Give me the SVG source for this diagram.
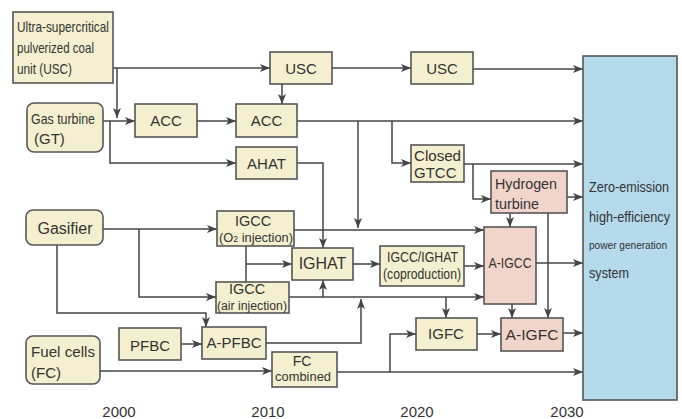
<svg xmlns="http://www.w3.org/2000/svg" width="682" height="419" viewBox="0 0 682 419">
  <defs>
    <marker id="arr" viewBox="0 0 10 8" refX="10" refY="4" markerWidth="10" markerHeight="8" markerUnits="userSpaceOnUse" orient="auto">
      <path d="M0,0 L10,4 L0,8 L2.5,4 Z" fill="#444"/>
    </marker>
    <style>
      svg { font-size: 15px; }
      .bx { fill: #f4efcf; stroke: #555; stroke-width: 1.6; }
      .pk { fill: #f2d5ca; stroke: #555; stroke-width: 1.6; }
      .bl { fill: #b5daec; stroke: #555; stroke-width: 1.6; }
      .ln { fill: none; stroke: #444; stroke-width: 1.5; }
      .ar { fill: none; stroke: #444; stroke-width: 1.5; marker-end: url(#arr); }
      text { font-family: "Liberation Sans", Arial, sans-serif; fill: #333; }
      .c { text-anchor: middle; }
    </style>
  </defs>

  <!-- connectors -->
  <g id="connectors">
    <path class="ar" d="M113,68 H270"/>
    <path class="ar" d="M117,68 V118"/>
    <path class="ar" d="M103,121 H135"/>
    <path class="ar" d="M110,121 V163 H236"/>
    <path class="ar" d="M197,121 H236"/>
    <path class="ar" d="M332,68 H411"/>
    <path class="ar" d="M473,69 H583"/>
    <path class="ar" d="M282,84 V104"/>
    <path class="ar" d="M297,121 H583"/>
    <path class="ar" d="M358,121 V228"/>
    <path class="ar" d="M392,121 V163 H411"/>
    <path class="ar" d="M297,163 H323 V248"/>
    <path class="ar" d="M464,164 H583"/>
    <path class="ar" d="M473,164 V199 H491"/>
    <path class="ar" d="M567,197 H583"/>
    <path class="ar" d="M510,213 V227"/>
    <path class="ar" d="M548,213 V318"/>
    <path class="ar" d="M103,229 H217"/>
    <path class="ar" d="M139,229 V297 H216"/>
    <path class="ar" d="M57,245 V313 H206 V327"/>
    <path class="ar" d="M294,230 H484"/>
    <path class="ln" d="M246,246 V282"/>
    <path class="ar" d="M246,264 H292"/>
    <path class="ar" d="M353,264 H380"/>
    <path class="ar" d="M464,266 H484"/>
    <path class="ar" d="M536,263 H583"/>
    <path class="ar" d="M289,297 H484"/>
    <path class="ar" d="M323,297 V280"/>
    <path class="ar" d="M266,343 H361 V299"/>
    <path class="ar" d="M446,297 V318"/>
    <path class="ar" d="M512,304 V318"/>
    <path class="ar" d="M181,344 H202"/>
    <path class="ar" d="M477,334 H501"/>
    <path class="ar" d="M563,333 H583"/>
    <path class="ar" d="M100,371 H272"/>
    <path class="ar" d="M337,372 H583"/>
    <path class="ar" d="M390,372 V334 H416"/>
  </g>

  <!-- source technologies -->
  <g id="usc-src">
    <rect class="bx" x="13" y="12" width="100" height="71"/>
    <text x="17" y="32" textLength="92" lengthAdjust="spacingAndGlyphs">Ultra-supercritical</text>
    <text x="17" y="53" textLength="77" lengthAdjust="spacingAndGlyphs">pulverized coal</text>
    <text x="17" y="74" textLength="55" lengthAdjust="spacingAndGlyphs">unit (USC)</text>
  </g>
  <g id="gt-src">
    <rect class="bx" x="27" y="103" width="76" height="49" rx="7"/>
    <text x="31" y="124" textLength="64" lengthAdjust="spacingAndGlyphs">Gas turbine</text>
    <text x="34" y="144">(GT)</text>
  </g>
  <g id="gasifier">
    <rect class="bx" x="26" y="210" width="77" height="35" rx="7"/>
    <text class="c" x="65" y="234" font-size="16">Gasifier</text>
  </g>
  <g id="fc-src">
    <rect class="bx" x="26" y="336" width="74" height="48" rx="7"/>
    <text x="31" y="357" textLength="64" lengthAdjust="spacingAndGlyphs">Fuel cells</text>
    <text x="31" y="378">(FC)</text>
  </g>

  <!-- intermediate technologies -->
  <g id="acc1">
    <rect class="bx" x="135" y="104" width="62" height="33"/>
    <text class="c" x="166" y="126">ACC</text>
  </g>
  <g id="usc2">
    <rect class="bx" x="270" y="52" width="62" height="32"/>
    <text class="c" x="301" y="74">USC</text>
  </g>
  <g id="usc3">
    <rect class="bx" x="411" y="52" width="62" height="32"/>
    <text class="c" x="442" y="74">USC</text>
  </g>
  <g id="acc2">
    <rect class="bx" x="236" y="104" width="61" height="33"/>
    <text class="c" x="266.5" y="126">ACC</text>
  </g>
  <g id="ahat">
    <rect class="bx" x="236" y="147" width="61" height="32"/>
    <text class="c" x="266.5" y="169">AHAT</text>
  </g>
  <g id="closed-gtcc">
    <rect class="bx" x="411" y="145" width="53" height="37"/>
    <text x="414" y="161" textLength="47" lengthAdjust="spacingAndGlyphs">Closed</text>
    <text x="414" y="178">GTCC</text>
  </g>
  <g id="hydrogen-turbine">
    <rect class="pk" x="491" y="171" width="76" height="42"/>
    <text x="495" y="189" textLength="62" lengthAdjust="spacingAndGlyphs">Hydrogen</text>
    <text x="495" y="209" textLength="44" lengthAdjust="spacingAndGlyphs">turbine</text>
  </g>
  <g id="igcc-o2">
    <rect class="bx" x="217" y="211" width="77" height="35"/>
    <text class="c" x="253" y="226" font-size="14.5">IGCC</text>
    <text x="219" y="241.5" font-size="12.5" textLength="74" lengthAdjust="spacingAndGlyphs">(O<tspan font-size="8.5">2</tspan> injection)</text>
  </g>
  <g id="ighat">
    <rect class="bx" x="292" y="248" width="61" height="32"/>
    <text class="c" x="322.5" y="269" font-size="16">IGHAT</text>
  </g>
  <g id="igcc-ighat">
    <rect class="bx" x="380" y="246" width="84" height="40"/>
    <text class="c" x="422.5" y="262" font-size="14" textLength="71" lengthAdjust="spacingAndGlyphs">IGCC/IGHAT</text>
    <text class="c" x="422" y="279" font-size="14" textLength="78" lengthAdjust="spacingAndGlyphs">(coproduction)</text>
  </g>
  <g id="igcc-air">
    <rect class="bx" x="216" y="282" width="73" height="31"/>
    <text class="c" x="247" y="294" font-size="14.5">IGCC</text>
    <text class="c" x="252" y="309.5" font-size="12.5" textLength="70" lengthAdjust="spacingAndGlyphs">(air injection)</text>
  </g>
  <g id="a-igcc">
    <rect class="pk" x="484" y="227" width="52" height="77"/>
    <text class="c" x="510" y="268" textLength="43" lengthAdjust="spacingAndGlyphs">A-IGCC</text>
  </g>
  <g id="pfbc">
    <rect class="bx" x="119" y="328" width="62" height="32"/>
    <text class="c" x="150" y="351">PFBC</text>
  </g>
  <g id="a-pfbc">
    <rect class="bx" x="202" y="327" width="64" height="32"/>
    <text class="c" x="234" y="348">A-PFBC</text>
  </g>
  <g id="fc-combined">
    <rect class="bx" x="272" y="352" width="65" height="35"/>
    <text class="c" x="302" y="365.5" font-size="14">FC</text>
    <text class="c" x="303" y="381" font-size="12.5" textLength="56" lengthAdjust="spacingAndGlyphs">combined</text>
  </g>
  <g id="igfc">
    <rect class="bx" x="416" y="318" width="61" height="32"/>
    <text class="c" x="446" y="339">IGFC</text>
  </g>
  <g id="a-igfc">
    <rect class="pk" x="501" y="318" width="62" height="33"/>
    <text class="c" x="532" y="340" textLength="53" lengthAdjust="spacingAndGlyphs">A-IGFC</text>
  </g>

  <!-- goal -->
  <g id="zero-emission">
    <rect class="bl" x="583" y="56" width="94" height="344"/>
    <text x="589" y="192" font-size="14" textLength="80" lengthAdjust="spacingAndGlyphs">Zero-emission</text>
    <text x="589" y="222" font-size="14" textLength="81" lengthAdjust="spacingAndGlyphs">high-efficiency</text>
    <text x="589" y="249" font-size="11.5" textLength="78" lengthAdjust="spacingAndGlyphs">power generation</text>
    <text x="589" y="278" font-size="14" textLength="40" lengthAdjust="spacingAndGlyphs">system</text>
  </g>

  <!-- timeline -->
  <g id="years">
    <text class="c" x="119" y="417">2000</text>
    <text class="c" x="268" y="417">2010</text>
    <text class="c" x="417" y="417">2020</text>
    <text class="c" x="567" y="417">2030</text>
  </g>
</svg>
